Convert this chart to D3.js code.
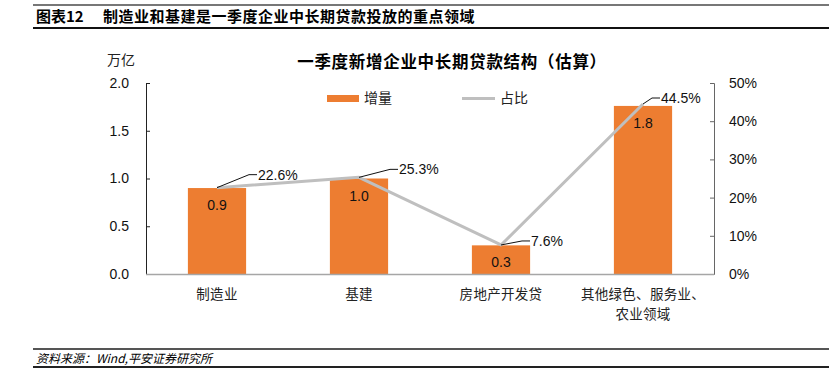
<!DOCTYPE html>
<html>
<head>
<meta charset="utf-8">
<script src="https://cdn.jsdelivr.net/npm/d3@7"></script>
<style>
  body { margin: 0; background: #fff; }
  svg { display: block; font-family: "Liberation Sans", Arial, "Noto Sans CJK SC", sans-serif; }
</style>
</head>
<body>
<svg id="chart" width="839" height="388"></svg>
<script>
var categories = ['制造业', '基建', '房地产开发贷', '其他绿色、服务业、|农业领域']
var amounts = [0.9, 1.0, 0.3, 1.76]
var shares = [22.6, 25.3, 7.6, 44.5]
var leftTicks = [0, 0.5, 1.0, 1.5, 2.0]
var rightTicks = [0, 10, 20, 30, 40, 50]

var svg = d3.select('#chart')
var cjk = '"Noto Sans CJK SC", "Liberation Sans", sans-serif'

// header rules + title
svg.append('line').attr('x1', 33).attr('x2', 829).attr('y1', 5).attr('y2', 5)
  .attr('stroke', '#777').attr('stroke-width', 2)
svg.append('line').attr('x1', 33).attr('x2', 829).attr('y1', 28).attr('y2', 28)
  .attr('stroke', '#111').attr('stroke-width', 2)
svg.append('text').attr('x', 36).attr('y', 22)
  .style('font-family', cjk).style('font-size', '15px').style('font-weight', 'bold')
  .text('图表12')
svg.append('text').attr('x', 103).attr('y', 22)
  .style('font-family', cjk).style('font-size', '15px').style('font-weight', 'bold')
  .style('letter-spacing', '0.5px')
  .text('制造业和基建是一季度企业中长期贷款投放的重点领域')

// footer
svg.append('line').attr('x1', 33).attr('x2', 829).attr('y1', 349).attr('y2', 349)
  .attr('stroke', '#555').attr('stroke-width', 2)
svg.append('line').attr('x1', 33).attr('x2', 829).attr('y1', 367).attr('y2', 367)
  .attr('stroke', '#222').attr('stroke-width', 2)
svg.append('text').attr('x', 36).attr('y', 363)
  .style('font-family', cjk).style('font-size', '12px').style('font-style', 'italic')
  .text('资料来源：Wind,平安证券研究所')

// chart title
svg.append('text').attr('x', 452).attr('y', 68).attr('text-anchor', 'middle')
  .style('font-family', cjk).style('font-size', '16.5px').style('font-weight', 'bold')
  .style('letter-spacing', '0.7px')
  .text('一季度新增企业中长期贷款结构（估算）')
svg.append('text').attr('x', 107).attr('y', 65)
  .style('font-family', cjk).style('font-size', '14px').attr('fill', '#222')
  .text('万亿')

var plotLeft = 146, plotRight = 714, plotTop = 83, plotBottom = 274

var x = d3.scaleBand().domain(categories).range([plotLeft, plotRight]).paddingInner(0.59).paddingOuter(0.295)
var y = d3.scaleLinear().domain([0, 2]).range([plotBottom, plotTop])
var y2 = d3.scaleLinear().domain([0, 50]).range([plotBottom, plotTop])

// left axis
var la = svg.append('g').attr('transform', 'translate(' + plotLeft + ',0)')
  .call(d3.axisLeft(y).tickValues(leftTicks).tickFormat(d3.format('.1f')).tickSizeInner(-4).tickSizeOuter(-4).tickPadding(17))
la.select('.domain').attr('stroke', '#222')
la.selectAll('.tick line').attr('stroke', '#222')
la.selectAll('text').style('font-size', '14px').attr('fill', '#111')

// right axis
var ra = svg.append('g').attr('transform', 'translate(' + plotRight + ',0)')
  .call(d3.axisRight(y2).tickValues(rightTicks).tickFormat(function(d) { return d + '%' }).tickSizeInner(-4).tickSizeOuter(-4).tickPadding(15))
ra.select('.domain').attr('stroke', '#666')
ra.selectAll('.tick line').attr('stroke', '#666')
ra.selectAll('text').style('font-size', '14px').attr('fill', '#111')

// bars
svg.selectAll('rect.bar').data(amounts).enter().append('rect').attr('class', 'bar')
  .attr('x', function(d, i) { return x(categories[i]) })
  .attr('width', x.bandwidth())
  .attr('y', function(d) { return y(d) })
  .attr('height', function(d) { return plotBottom - y(d) })
  .attr('fill', '#ED7D31')

// x axis line
svg.append('line').attr('x1', plotLeft).attr('x2', plotRight).attr('y1', plotBottom + 0.5).attr('y2', plotBottom + 0.5)
  .attr('stroke', '#a6a6a6').attr('stroke-width', 1.5)

// bar value labels
svg.selectAll('text.val').data(amounts).enter().append('text').attr('class', 'val')
  .attr('x', function(d, i) { return x(categories[i]) + x.bandwidth() / 2 })
  .attr('y', function(d) { return y(d) + 22 })
  .attr('text-anchor', 'middle')
  .style('font-size', '14px').attr('fill', '#111')
  .text(d3.format('.1f'))

// category labels
categories.forEach(function(c, i) {
  var parts = c.split('|')
  var t = svg.append('text').attr('text-anchor', 'middle')
    .attr('x', x(c) + x.bandwidth() / 2).attr('y', 299)
    .style('font-family', cjk).style('font-size', '13.5px').style('letter-spacing', '0.3px').attr('fill', '#222')
  parts.forEach(function(p, j) {
    t.append('tspan').attr('x', x(c) + x.bandwidth() / 2).attr('dy', j === 0 ? 0 : 20).text(p)
  })
})

// share line
var cx = function(i) { return x(categories[i]) + x.bandwidth() / 2 }
var line = d3.line()
  .x(function(d, i) { return cx(i) })
  .y(function(d) { return y2(d) })
svg.append('path').datum(shares)
  .attr('fill', 'none').attr('stroke', '#BFBFBF').attr('stroke-width', 3)
  .attr('stroke-linejoin', 'round')
  .attr('d', line)

// share labels with leader lines
var leaders = [[32, -13], [31, -8], [21, -4], [9, -6]]
shares.forEach(function(s, i) {
  var px = cx(i), py = y2(s)
  var lx = px + leaders[i][0], ly = py + leaders[i][1]
  svg.append('path')
    .attr('d', 'M' + px + ',' + py + 'L' + lx + ',' + ly + 'L' + (lx + 8) + ',' + ly)
    .attr('fill', 'none').attr('stroke', '#111').attr('stroke-width', 1)
  svg.append('text').attr('x', lx + 9).attr('y', ly + 5)
    .style('font-size', '14px').attr('fill', '#111')
    .text(s.toFixed(1) + '%')
})

// legend
svg.append('rect').attr('x', 327).attr('y', 95).attr('width', 32).attr('height', 7).attr('fill', '#ED7D31')
svg.append('text').attr('x', 364).attr('y', 103)
  .style('font-family', cjk).style('font-size', '14px').attr('fill', '#222').text('增量')
svg.append('line').attr('x1', 462).attr('x2', 495).attr('y1', 98.5).attr('y2', 98.5)
  .attr('stroke', '#BFBFBF').attr('stroke-width', 3)
svg.append('text').attr('x', 500).attr('y', 103)
  .style('font-family', cjk).style('font-size', '14px').attr('fill', '#222').text('占比')
</script>
</body>
</html>
